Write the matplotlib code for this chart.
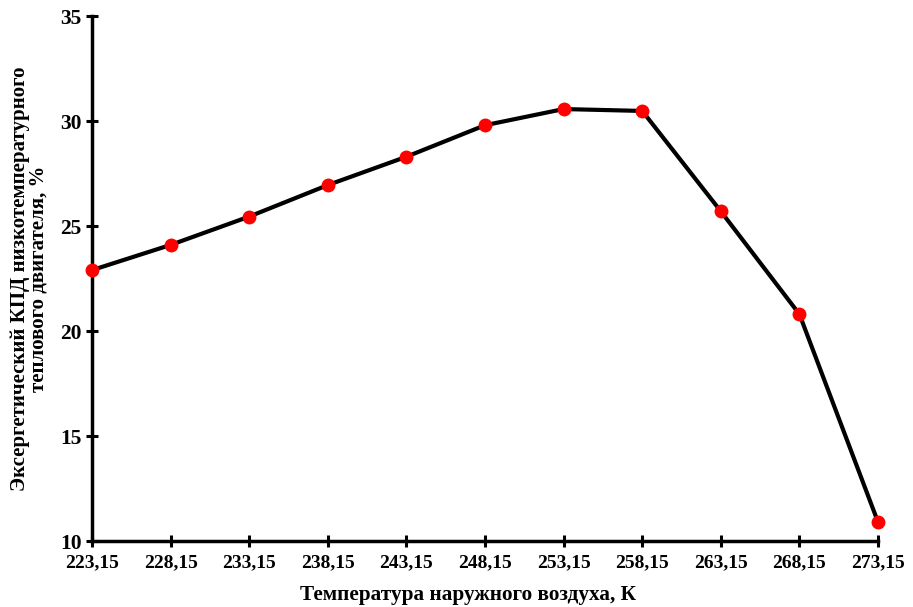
import numpy as np
import matplotlib
matplotlib.use('Agg')
import matplotlib.pyplot as plt

temps = ['223,15', '228,15', '233,15', '238,15', '243,15', '248,15',
         '253,15', '258,15', '263,15', '268,15', '273,15']
eff = [22.9, 24.1, 25.45, 26.95, 28.3, 29.8, 30.57, 30.48, 25.7, 20.8, 10.9]
y_ticks = [10, 15, 20, 25, 30, 35]

plt.rcParams['font.family'] = ['Liberation Serif', 'DejaVu Serif']
plt.rcParams['font.weight'] = 'bold'

fig = plt.figure(figsize=(9.13, 6.07), dpi=100)
ax = fig.add_axes([0.1008, 0.1087, 0.8609, 0.8649])

x = np.arange(len(temps))
ax.plot(x, eff, color='black', linewidth=3, marker='o', markersize=9,
        markerfacecolor='red', markeredgecolor='red', zorder=3, clip_on=False)

ax.set_xlim(0, len(temps) - 1)
ax.set_ylim(10, 35)
ax.set_xticks(x)
ax.set_xticklabels(temps)
ax.set_yticks(y_ticks)

for s in ['top', 'right']:
    ax.spines[s].set_visible(False)
for s in ['left', 'bottom']:
    ax.spines[s].set_linewidth(2.5)

ax.tick_params(direction='inout', length=9, width=2.2)
ax.tick_params(axis='x', labelsize=14, pad=5)
ax.tick_params(axis='y', labelsize=15.5, pad=3)
for lbl in ax.get_xticklabels() + ax.get_yticklabels():
    lbl.set_fontweight('bold')

ax.set_xlabel('Температура наружного воздуха, К', fontsize=15.3, fontweight='bold')
ax.xaxis.set_label_coords(0.478, -0.083)
ax.set_ylabel('Эксергетический КПД низкотемпературного\nтеплового двигателя, %',
              fontsize=15, fontweight='bold', labelpad=8, linespacing=0.95)

fig.savefig('out.png', dpi=100)
